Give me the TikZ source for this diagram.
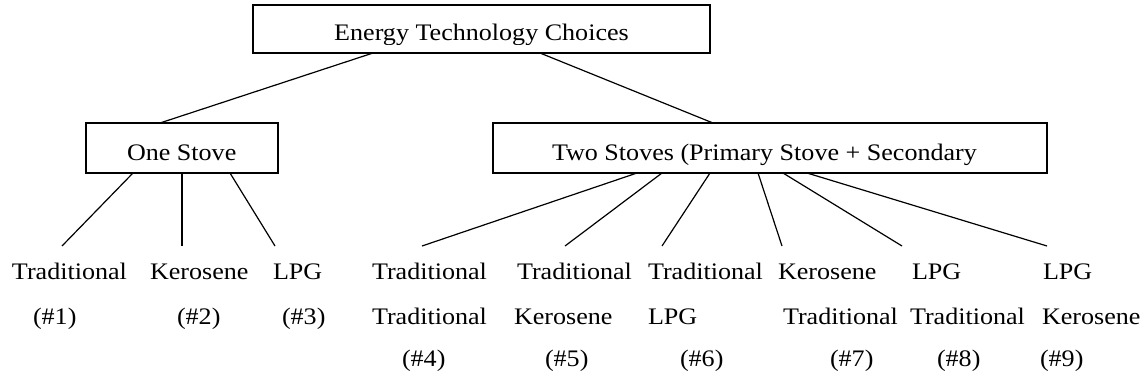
\documentclass[tikz,border=0pt]{standalone}
\usepackage{fontspec}
\setmainfont{Liberation Serif}
\usepackage{graphicx}
\usetikzlibrary{calc}
\newcommand{\wt}[1]{\scalebox{1.1}[1]{#1}}
\tikzset{
  every node/.style={font=\fontsize{23.7}{28}\selectfont, inner sep=0pt, outer sep=0pt},
  lbl/.style={anchor=base west},
  boxline/.style={draw=black, line width=1.6pt},
  conn/.style={draw=black, line width=1.2pt},
}
\begin{document}
\begin{tikzpicture}[x=1pt,y=-1pt]
\useasboundingbox (0,0) rectangle (1148,383);
% boxes
\coordinate (topNW) at (253,5);
\coordinate (topSE) at (710,53);
\coordinate (oneNW) at (86,123);
\coordinate (oneSE) at (278,173);
\coordinate (twoNW) at (493,123);
\coordinate (twoSE) at (1047,173);
\node[boxline, fit/.style={}, anchor=north west, minimum width=457pt, minimum height=48pt] (top) at (topNW) {};
\node[boxline, anchor=north west, minimum width=192pt, minimum height=50pt] (one) at (oneNW) {};
\node[boxline, anchor=north west, minimum width=554pt, minimum height=50pt] (two) at (twoNW) {};
\begin{scope}
\clip (253,5) rectangle (710,44);
\node[anchor=base] (toptxt) at (481.5,40) {\wt{Energy Technology Choices}};
\end{scope}
\node[lbl] (onetxt) at (127,160) {\wt{One Stove}};
\node[lbl] (twotxt) at (552,160) {\wt{Two Stoves (Primary Stove + Secondary}};
% connectors top
\draw[conn] ([xshift=120pt]top.south west) -- ([xshift=74pt]one.north west);
\draw[conn] ([xshift=287pt]top.south west) -- ([xshift=220pt]two.north west);
% leaf end coordinates
\coordinate (e1) at (62,246);
\coordinate (e2) at (182,246);
\coordinate (e3) at (275,246);
\coordinate (e4) at (422,246);
\coordinate (e5) at (565,246);
\coordinate (e6) at (662,246);
\coordinate (e7) at (782,246);
\coordinate (e8) at (902,246);
\coordinate (e9) at (1047,246);
\draw[conn] ([xshift=47pt]one.south west) -- (e1);
\draw[conn] ([xshift=96pt]one.south west) -- (e2);
\draw[conn] ([xshift=144pt]one.south west) -- (e3);
\draw[conn] ([xshift=144pt]two.south west) -- (e4);
\draw[conn] ([xshift=169pt]two.south west) -- (e5);
\draw[conn] ([xshift=217pt]two.south west) -- (e6);
\draw[conn] ([xshift=265pt]two.south west) -- (e7);
\draw[conn] ([xshift=290pt]two.south west) -- (e8);
\draw[conn] ([xshift=314pt]two.south west) -- (e9);
% leaves, one stove
\node[lbl] (a1) at (12,279) {\wt{Traditional}};
\node[lbl] (a2) at (150,279) {\wt{Kerosene}};
\node[lbl] (a3) at (273,279) {\wt{LPG}};
\node[lbl] (n1) at (33,324) {\wt{(\#1)}};
\node[lbl] (n2) at (177,324) {\wt{(\#2)}};
\node[lbl] (n3) at (282,324) {\wt{(\#3)}};
% leaves, two stoves
\node[lbl] (b4) at (372,279) {\wt{Traditional}};
\node[lbl] (b5) at (517,279) {\wt{Traditional}};
\node[lbl] (b6) at (648,279) {\wt{Traditional}};
\node[lbl] (b7) at (778,279) {\wt{Kerosene}};
\node[lbl] (b8) at (912,279) {\wt{LPG}};
\node[lbl] (b9) at (1043,279) {\wt{LPG}};
\node[lbl] (c4) at (372,324) {\wt{Traditional}};
\node[lbl] (c5) at (514,324) {\wt{Kerosene}};
\node[lbl] (c6) at (648,324) {\wt{LPG}};
\node[lbl] (c7) at (783,324) {\wt{Traditional}};
\node[lbl] (c8) at (910,324) {\wt{Traditional}};
\node[lbl] (c9) at (1042,324) {\wt{Kerosene}};
\node[lbl] (n4) at (402,366) {\wt{(\#4)}};
\node[lbl] (n5) at (545,366) {\wt{(\#5)}};
\node[lbl] (n6) at (680,366) {\wt{(\#6)}};
\node[lbl] (n7) at (830,366) {\wt{(\#7)}};
\node[lbl] (n8) at (937,366) {\wt{(\#8)}};
\node[lbl] (n9) at (1040,366) {\wt{(\#9)}};
\end{tikzpicture}
\end{document}
